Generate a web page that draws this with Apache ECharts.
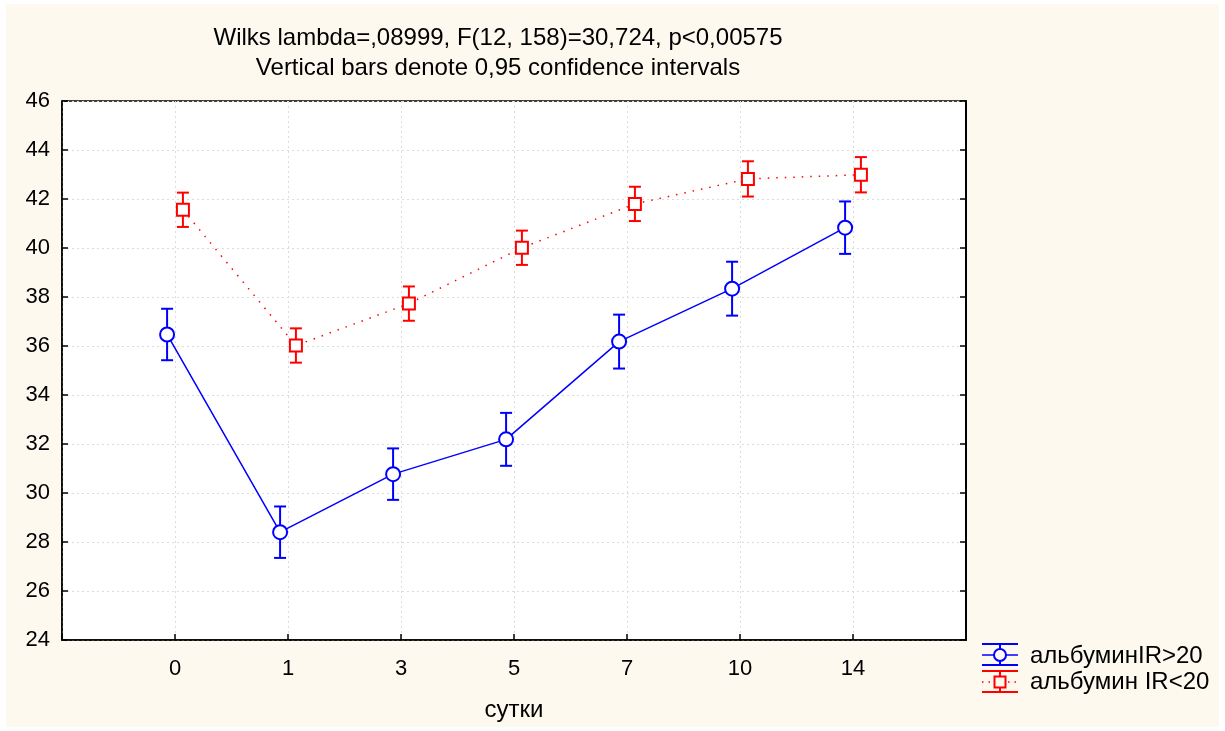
<!DOCTYPE html>
<html>
<head>
<meta charset="utf-8">
<script src="https://cdn.jsdelivr.net/npm/echarts@6/dist/echarts.min.js"></script>
<style>
	html, body { margin: 0; padding: 0; background: #ffffff; }
	#main { position: absolute; left: 6px; top: 4px; width: 1213px; height: 723px; }
</style>
</head>
<body>
<div id="main"></div>
<script>
// сутки
var days = ['0', '1', '3', '5', '7', '10', '14'];
// альбумин IR>20
var blueMean = [36.47, 28.40, 30.77, 32.19, 36.18, 38.34, 40.83];
var blueCi = [1.05, 1.05, 1.05, 1.08, 1.10, 1.10, 1.07];
// альбумин IR<20
var redMean = [41.56, 36.02, 37.73, 40.01, 41.80, 42.82, 42.99];
var redCi = [0.70, 0.70, 0.70, 0.70, 0.70, 0.72, 0.72];
var yTicks = [24, 26, 28, 30, 32, 34, 36, 38, 40, 42, 44, 46];

var FONT = 'Liberation Sans, Arial, sans-serif';
var BLUE = '#0000ff';
var RED = '#ff0000';
var BG = '#fdf9ef';
var shift = 0.07;

function points(mean, dx) {
	var out = [];
	for (var i = 0; i < mean.length; i++) {
		out.push([i + dx, mean[i]]);
	}
	return out;
}
function bars(mean, ci, dx) {
	var out = [];
	for (var i = 0; i < mean.length; i++) {
		out.push([i + dx, mean[i] - ci[i], mean[i] + ci[i]]);
	}
	return out;
}
function errorBar(color) {
	return function(params, api) {
		var lo = api.coord([api.value(0), api.value(1)]);
		var hi = api.coord([api.value(0), api.value(2)]);
		var w = 6;
		var st = { stroke: color, lineWidth: 2 };
		return {
			type: 'group',
			children: [
				{ type: 'line', shape: { x1: lo[0], y1: lo[1], x2: hi[0], y2: hi[1] }, style: st },
				{ type: 'line', shape: { x1: lo[0] - w, y1: lo[1], x2: lo[0] + w, y2: lo[1] }, style: st },
				{ type: 'line', shape: { x1: hi[0] - w, y1: hi[1], x2: hi[0] + w, y2: hi[1] }, style: st }
			]
		};
	};
}

var chart = echarts.init(document.getElementById('main'));
var option = {
	backgroundColor: BG,
	animation: false,
	textStyle: { fontFamily: FONT },
	title: {
		text: 'Wilks lambda=,08999, F(12, 158)=30,724, p<0,00575\nVertical bars denote 0,95 confidence intervals',
		left: 487,
		top: 14,
		textAlign: 'center',
		textStyle: { fontSize: 24, fontWeight: 'normal', color: '#000', lineHeight: 30, fontFamily: FONT }
	},
	grid: {
		left: 56, top: 97, width: 904, height: 540,
		show: true, backgroundColor: '#ffffff', borderColor: '#000', borderWidth: 1.5
	},
	xAxis: {
		type: 'value', min: -1, max: 7, interval: 1,
		name: 'сутки', nameLocation: 'middle', nameGap: 58,
		nameTextStyle: { fontSize: 24, color: '#000', fontFamily: FONT },
		axisLine: { onZero: false, lineStyle: { color: '#000', width: 1.5 } },
		axisTick: { inside: true, length: 6, lineStyle: { color: '#000', width: 1.5 } },
		axisLabel: {
			fontSize: 22, color: '#000', margin: 18, fontFamily: FONT,
			formatter: function(v) { return days[v] !== undefined ? days[v] : ''; }
		},
		splitLine: { show: true, lineStyle: { color: '#dcdcdc', type: [2, 3], width: 1 } }
	},
	yAxis: [{
		type: 'value', min: 24, max: 46, interval: 2, position: 'left',
		axisLine: { show: true, onZero: false, lineStyle: { color: '#000', width: 1.5 } },
		axisTick: { show: true, inside: true, length: 6, lineStyle: { color: '#000', width: 1.5 } },
		axisLabel: {
			fontSize: 22, color: '#000', margin: 12, fontFamily: FONT,
			formatter: function(v) { return yTicks.indexOf(v) >= 0 ? String(v) : ''; }
		},
		splitLine: { show: true, lineStyle: { color: '#dcdcdc', type: [2, 3], width: 1 } }
	}, {
		type: 'value', min: 24, max: 46, interval: 2, position: 'right',
		axisLine: { show: true, onZero: false, lineStyle: { color: '#000', width: 2 } },
		axisTick: { show: true, inside: true, length: 6, lineStyle: { color: '#000', width: 1.5 } },
		axisLabel: { show: false },
		splitLine: { show: false }
	}],
	series: [{
		name: 'blue-ci', type: 'custom', renderItem: errorBar(BLUE),
		data: bars(blueMean, blueCi, -shift), encode: { x: 0, y: [1, 2] }, z: 3, silent: true
	}, {
		name: 'red-ci', type: 'custom', renderItem: errorBar(RED),
		data: bars(redMean, redCi, shift), encode: { x: 0, y: [1, 2] }, z: 3, silent: true
	}, {
		name: 'альбуминIR>20', type: 'line', data: points(blueMean, -shift),
		symbol: 'circle', symbolSize: 14, showAllSymbol: true,
		lineStyle: { color: BLUE, width: 1.5 },
		itemStyle: { color: '#ffffff', borderColor: BLUE, borderWidth: 2 }, z: 4
	}, {
		name: 'альбумин IR<20', type: 'line', data: points(redMean, shift),
		symbol: 'rect', symbolSize: 12, showAllSymbol: true,
		lineStyle: { color: RED, width: 1.5, type: [1.5, 7] },
		itemStyle: { color: '#ffffff', borderColor: RED, borderWidth: 2 }, z: 4
	}],
	graphic: [
		// legend
		{ type: 'line', shape: { x1: 976, y1: 640, x2: 1012, y2: 640 }, style: { stroke: BLUE, lineWidth: 2 } },
		{ type: 'line', shape: { x1: 976, y1: 661, x2: 1012, y2: 661 }, style: { stroke: BLUE, lineWidth: 2 } },
		{ type: 'line', shape: { x1: 994, y1: 640, x2: 994, y2: 661 }, style: { stroke: BLUE, lineWidth: 2 } },
		{ type: 'line', shape: { x1: 976, y1: 651, x2: 1012, y2: 651 }, style: { stroke: BLUE, lineWidth: 1.5 } },
		{ type: 'circle', shape: { cx: 994, cy: 651, r: 6 }, style: { stroke: BLUE, fill: BG, lineWidth: 2 } },
		{ type: 'text', x: 1024, y: 652, style: { text: 'альбуминIR>20', font: '24px ' + FONT, fill: '#000', verticalAlign: 'middle' } },
		{ type: 'line', shape: { x1: 976, y1: 667, x2: 1012, y2: 667 }, style: { stroke: RED, lineWidth: 2 } },
		{ type: 'line', shape: { x1: 976, y1: 688, x2: 1012, y2: 688 }, style: { stroke: RED, lineWidth: 2 } },
		{ type: 'line', shape: { x1: 994, y1: 667, x2: 994, y2: 688 }, style: { stroke: RED, lineWidth: 2 } },
		{ type: 'line', shape: { x1: 976, y1: 678, x2: 1012, y2: 678 }, style: { stroke: RED, lineWidth: 1.5, lineDash: [1.5, 5] } },
		{ type: 'rect', shape: { x: 988.5, y: 672.5, width: 11, height: 11 }, style: { stroke: RED, fill: BG, lineWidth: 2 } },
		{ type: 'text', x: 1024, y: 678, style: { text: 'альбумин IR<20', font: '24px ' + FONT, fill: '#000', verticalAlign: 'middle' } }
	]
};
chart.setOption(option);
</script>
</body>
</html>
